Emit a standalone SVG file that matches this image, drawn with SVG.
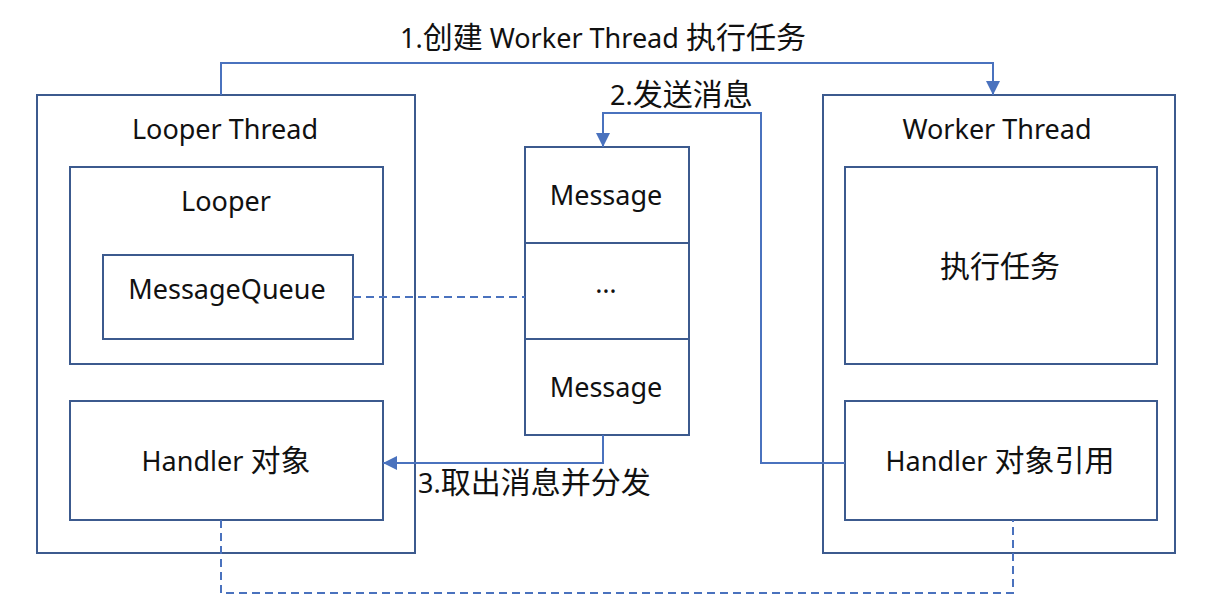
<svg xmlns="http://www.w3.org/2000/svg" width="1210" height="616" viewBox="0 0 1210 616">
<defs>
<style>
.box{fill:#fff;stroke:#3c5a8e;stroke-width:2}
.line{fill:none;stroke:#4a72be;stroke-width:2}
.dash{fill:none;stroke:#4a72be;stroke-width:2;stroke-dasharray:8 5}
text{font-family:"Noto Sans","Noto Sans CJK SC",sans-serif;font-size:27px;fill:#111}
.k{font-size:30px}
.c{text-anchor:middle}
</style>
<marker id="ah" viewBox="0 0 10 10" refX="10" refY="5" markerWidth="14" markerHeight="14" markerUnits="userSpaceOnUse" orient="auto">
<path d="M0,0 L10,5 L0,10 z" fill="#4a72be"/>
</marker>
</defs>
<rect width="1210" height="616" fill="#fff"/>
<g id="looper-thread">
<rect class="box" x="37" y="95" width="378" height="458"/>
<text class="c" x="225" y="139">Looper Thread</text>
</g>
<g id="looper">
<rect class="box" x="70" y="167" width="313" height="197"/>
<text class="c" x="226" y="211">Looper</text>
</g>
<g id="message-queue">
<rect class="box" x="103" y="255" width="250" height="84"/>
<text class="c" x="227" y="299">MessageQueue</text>
</g>
<g id="handler">
<rect class="box" x="70" y="401" width="313" height="119"/>
<text class="c" x="226" y="471">Handler <tspan class="k">对象</tspan></text>
</g>
<g id="messages">
<rect class="box" x="525" y="147" width="164" height="96"/>
<text class="c" x="606" y="205">Message</text>
<rect class="box" x="525" y="243" width="164" height="96"/>
<text class="c" x="606" y="293">…</text>
<rect class="box" x="525" y="339" width="164" height="96"/>
<text class="c" x="606" y="397">Message</text>
</g>
<g id="worker-thread">
<rect class="box" x="823" y="95" width="352" height="458"/>
<text class="c" x="997" y="139">Worker Thread</text>
</g>
<g id="task">
<rect class="box" x="845" y="167" width="312" height="197"/>
<text class="c k" x="1000" y="277">执行任务</text>
</g>
<g id="handler-ref">
<rect class="box" x="845" y="401" width="312" height="119"/>
<text class="c" x="1000" y="471">Handler <tspan class="k">对象引用</tspan></text>
</g>
<g id="connectors">
<path class="line" d="M221,95 V63 H993 V95" marker-end="url(#ah)"/>
<path class="line" d="M845,463 H761 V113 H603 V147" marker-end="url(#ah)"/>
<path class="line" d="M603,435 V463 H383" marker-end="url(#ah)"/>
<path class="dash" d="M353,297 H525"/>
<path class="dash" d="M221,520 V593 H1013 V520"/>
<text x="400" y="48">1.<tspan class="k">创建</tspan> Worker Thread <tspan class="k">执行任务</tspan></text>
<text x="610" y="105">2.<tspan class="k">发送消息</tspan></text>
<text x="418" y="493">3.<tspan class="k">取出消息并分发</tspan></text>
</g>
</svg>
